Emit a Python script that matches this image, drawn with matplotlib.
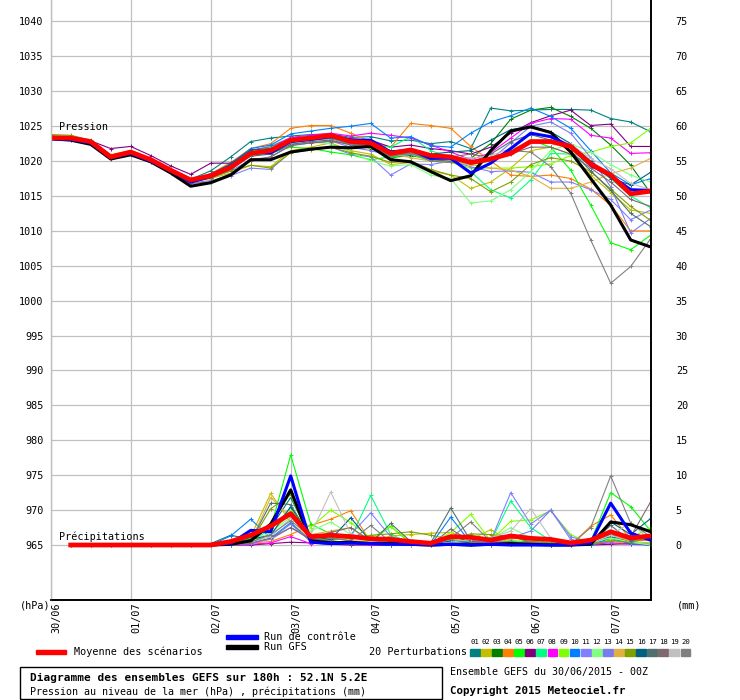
import numpy as np
import matplotlib
matplotlib.use("Agg")
import matplotlib.pyplot as plt
from matplotlib.patches import Rectangle

# ---------------- data ----------------
hours = list(range(0, 181, 6))          # 31 steps, 6h each
day_labels = ["30/06", "01/07", "02/07", "03/07", "04/07", "05/07", "06/07", "07/07"]
day_hours = [0, 24, 48, 72, 96, 120, 144, 168]
p_ticks = list(range(965, 1041, 5))
mm_ticks = list(range(0, 76, 5))

mean_p = [1023.35, 1023.3, 1022.8, 1020.6, 1021.3, 1020.2, 1018.7, 1017.3, 1017.9, 1019.1, 1021.1, 1021.5,
          1023.0, 1023.3, 1023.7, 1022.8, 1022.6, 1021.1, 1021.6, 1020.8, 1020.6, 1019.8, 1020.3, 1021.1,
          1022.8, 1022.8, 1022.1, 1019.6, 1018.0, 1015.3, 1015.7]
gfs_p = [1023.2, 1023.0, 1022.4, 1020.3, 1020.9, 1019.9, 1018.3, 1016.4, 1016.9, 1018.0, 1020.2, 1020.2,
         1021.3, 1021.7, 1022.0, 1021.9, 1022.1, 1020.2, 1019.9, 1018.5, 1017.2, 1017.9, 1021.5, 1024.3,
         1024.9, 1024.1, 1021.3, 1017.5, 1013.7, 1008.7, 1007.7]
ctrl_p = [1023.2, 1023.1, 1022.6, 1020.5, 1021.1, 1020.0, 1018.6, 1017.0, 1017.8, 1019.2, 1021.2, 1021.2,
          1022.8, 1023.1, 1023.5, 1023.0, 1023.0, 1021.3, 1021.6, 1020.4, 1020.4, 1018.3, 1019.7, 1021.8,
          1024.0, 1023.5, 1022.1, 1019.4, 1017.9, 1015.9, 1015.8]

pert_colors = ["#008080", "#c0c000", "#008000", "#ff8000", "#00ff00", "#800080", "#00ff80", "#ff00ff",
               "#80ff00", "#0080ff", "#8080ff", "#80ff80", "#7b7bf0", "#e0b040", "#80a000", "#006080",
               "#507070", "#806870", "#c0c0c0", "#808080"]

p01 = [1023.2, 1023.1, 1022.6, 1020.5, 1021.2, 1020.3, 1018.9, 1017.4, 1018.6, 1020.6, 1022.8, 1023.3, 1023.6, 1023.8, 1023.9, 1023.4, 1023.5, 1022.9, 1023.0, 1022.5, 1022.8, 1021.8, 1027.6, 1027.2, 1027.3, 1027.4, 1027.4, 1027.3, 1026.1, 1025.6, 1024.2]
p02 = [1023.5, 1023.4, 1022.7, 1020.7, 1021.4, 1020.1, 1018.5, 1017.0, 1017.5, 1018.3, 1019.4, 1019.2, 1021.5, 1022.0, 1022.6, 1021.5, 1021.0, 1019.5, 1019.8, 1018.6, 1018.0, 1016.1, 1017.0, 1019.0, 1021.5, 1022.0, 1021.0, 1018.0, 1015.5, 1013.0, 1012.5]
p03 = [1023.4, 1023.3, 1022.8, 1020.7, 1021.3, 1020.2, 1018.8, 1017.3, 1018.0, 1019.3, 1021.2, 1021.6, 1022.9, 1023.2, 1023.5, 1022.6, 1021.8, 1020.5, 1020.8, 1020.3, 1020.5, 1020.4, 1022.5, 1026.0, 1027.3, 1027.7, 1026.4, 1024.7, 1022.3, 1019.4, 1015.4]
p04 = [1023.6, 1023.5, 1022.9, 1020.9, 1021.5, 1020.4, 1018.9, 1017.3, 1018.2, 1019.8, 1021.8, 1022.5, 1024.7, 1025.1, 1025.1, 1024.0, 1022.8, 1022.0, 1025.4, 1025.1, 1024.7, 1022.1, 1020.0, 1018.0, 1017.8, 1018.0, 1017.5, 1016.0, 1013.7, 1010.0, 1010.0]
p05 = [1023.3, 1023.2, 1022.7, 1020.6, 1021.2, 1020.1, 1018.6, 1017.2, 1017.8, 1019.0, 1020.8, 1021.2, 1022.0, 1021.8, 1021.3, 1020.9, 1020.2, 1020.6, 1021.0, 1020.0, 1019.8, 1019.5, 1020.0, 1021.5, 1023.0, 1022.0, 1018.7, 1013.7, 1008.3, 1007.3, 1009.4]
p06 = [1023.5, 1023.4, 1022.9, 1021.8, 1022.1, 1020.8, 1019.3, 1018.1, 1019.7, 1019.7, 1021.5, 1022.0, 1023.2, 1023.5, 1023.8, 1023.2, 1023.0, 1022.0, 1022.3, 1021.8, 1021.5, 1021.0, 1022.0, 1024.0, 1025.5, 1026.5, 1027.3, 1025.1, 1025.3, 1022.1, 1022.1]
p07 = [1023.3, 1023.2, 1022.7, 1020.6, 1021.3, 1020.2, 1018.7, 1017.2, 1017.9, 1019.2, 1021.4, 1022.2, 1023.3, 1023.6, 1023.5, 1022.9, 1022.3, 1022.0, 1023.5, 1021.5, 1020.5, 1018.5, 1015.9, 1014.7, 1017.3, 1021.1, 1021.0, 1019.5, 1017.5, 1015.0, 1013.3]
p08 = [1023.3, 1023.2, 1022.7, 1020.7, 1021.3, 1020.3, 1018.8, 1017.3, 1018.2, 1019.5, 1021.6, 1022.0, 1023.4, 1023.7, 1024.0, 1023.6, 1024.0, 1023.7, 1023.3, 1022.3, 1021.3, 1020.2, 1021.2, 1023.3, 1025.4, 1026.1, 1026.0, 1023.7, 1023.3, 1021.1, 1021.2]
p09 = [1023.4, 1023.3, 1022.8, 1020.8, 1021.4, 1020.3, 1018.8, 1017.4, 1018.1, 1019.4, 1021.5, 1021.9, 1023.1, 1023.3, 1023.4, 1022.5, 1021.9, 1021.2, 1021.0, 1020.2, 1019.8, 1019.0, 1019.0, 1019.0, 1019.2, 1019.6, 1020.8, 1021.3, 1022.1, 1022.6, 1024.7]
p10 = [1023.1, 1023.0, 1022.5, 1020.4, 1021.0, 1020.0, 1018.6, 1017.1, 1017.9, 1019.6, 1021.8, 1022.3, 1023.9, 1024.3, 1024.7, 1025.0, 1025.4, 1023.3, 1023.5, 1022.2, 1022.0, 1024.0, 1025.6, 1026.5, 1027.6, 1026.4, 1024.7, 1021.5, 1018.3, 1016.6, 1017.5]
p11 = [1023.1, 1023.0, 1022.4, 1020.3, 1020.9, 1019.8, 1018.3, 1016.9, 1017.2, 1017.9, 1019.0, 1018.8, 1021.3, 1021.8, 1022.0, 1021.0, 1020.6, 1018.0, 1019.6, 1019.5, 1020.0, 1019.2, 1018.5, 1018.6, 1018.4, 1017.0, 1017.0, 1015.9, 1014.5, 1011.6, 1013.0]
p12 = [1023.2, 1023.1, 1022.6, 1020.5, 1021.1, 1020.1, 1018.6, 1017.1, 1017.8, 1019.1, 1021.0, 1021.2, 1022.5, 1022.7, 1022.5, 1021.3, 1020.0, 1019.3, 1019.5, 1018.0, 1017.5, 1014.0, 1014.3, 1015.9, 1018.5, 1021.5, 1022.5, 1021.3, 1019.5, 1018.0, 1017.0]
p13 = [1023.2, 1023.0, 1022.5, 1020.4, 1021.1, 1020.0, 1018.5, 1017.0, 1017.6, 1018.6, 1020.2, 1020.6, 1022.3, 1022.6, 1022.9, 1022.0, 1021.5, 1020.8, 1021.0, 1020.5, 1020.4, 1019.6, 1020.2, 1022.6, 1025.0, 1025.6, 1024.0, 1020.5, 1016.3, 1009.7, 1011.8]
p14 = [1023.4, 1023.3, 1022.8, 1020.7, 1021.4, 1020.3, 1018.8, 1017.3, 1018.0, 1019.3, 1021.2, 1021.7, 1023.0, 1023.3, 1023.4, 1022.8, 1022.0, 1021.0, 1020.5, 1020.0, 1019.8, 1019.5, 1019.0, 1018.7, 1017.8, 1016.1, 1016.1, 1017.0, 1018.2, 1019.0, 1020.4]
p15 = [1023.8, 1023.7, 1023.0, 1020.8, 1021.5, 1020.2, 1018.6, 1017.1, 1017.6, 1018.6, 1019.4, 1019.0, 1021.2, 1021.6, 1022.0, 1021.2, 1020.7, 1019.8, 1020.0, 1018.8, 1018.0, 1017.5, 1015.6, 1017.0, 1019.5, 1020.5, 1020.0, 1018.5, 1016.0, 1013.5, 1011.5]
p16 = [1023.2, 1023.1, 1022.6, 1020.5, 1021.2, 1020.1, 1018.7, 1017.2, 1018.1, 1019.6, 1021.6, 1021.8, 1023.0, 1023.2, 1023.3, 1022.4, 1022.3, 1021.5, 1021.5, 1021.0, 1021.3, 1021.5, 1023.0, 1024.5, 1025.0, 1024.2, 1022.5, 1020.0, 1017.5, 1016.6, 1018.4]
p17 = [1023.3, 1023.2, 1022.6, 1020.5, 1021.2, 1020.0, 1018.5, 1016.9, 1017.6, 1018.8, 1020.7, 1021.0, 1022.4, 1022.8, 1023.0, 1022.3, 1022.0, 1020.7, 1021.2, 1020.2, 1020.0, 1019.8, 1021.0, 1022.8, 1023.8, 1023.0, 1021.5, 1018.6, 1015.8, 1012.5, 1010.6]
p18 = [1023.2, 1023.1, 1022.5, 1020.3, 1021.0, 1019.9, 1018.4, 1016.8, 1017.0, 1018.2, 1020.0, 1020.6, 1022.2, 1022.6, 1022.8, 1022.5, 1022.0, 1021.5, 1021.2, 1020.9, 1020.6, 1021.0, 1020.5, 1021.0, 1022.0, 1022.0, 1021.0, 1019.0, 1017.0, 1014.5, 1013.5]
p19 = [1023.3, 1023.2, 1022.7, 1020.6, 1021.2, 1020.1, 1018.7, 1017.1, 1017.8, 1019.0, 1020.9, 1021.4, 1022.8, 1023.1, 1023.4, 1022.6, 1022.4, 1021.0, 1021.4, 1020.9, 1020.6, 1020.4, 1020.8, 1021.8, 1022.6, 1022.9, 1022.4, 1020.4, 1018.9, 1016.8, 1015.9]
p20 = [1023.2, 1023.1, 1022.6, 1020.6, 1021.2, 1020.1, 1018.6, 1017.0, 1017.7, 1019.0, 1020.9, 1021.3, 1022.7, 1023.0, 1023.2, 1022.5, 1022.1, 1020.8, 1021.2, 1020.0, 1019.8, 1020.0, 1020.5, 1021.5, 1021.3, 1019.2, 1015.4, 1008.7, 1002.5, 1004.9, 1008.9]
pert_p = [p01, p02, p03, p04, p05, p06, p07, p08, p09, p10, p11, p12, p13, p14, p15, p16, p17, p18, p19, p20]

# precipitation (mm), from 6h (hours[1:]); first 7 steps are dry
dry = [0.0] * 7
mean_r = dry + [0.0, 0.5, 1.4, 2.7, 4.5, 1.2, 1.4, 1.2, 0.9, 0.8, 0.5, 0.25, 1.2, 1.1, 0.7, 1.3, 0.95, 0.8, 0.3, 0.7, 1.9, 1.0, 1.3]
gfs_r = dry + [0.0, 0.1, 0.6, 3.0, 7.9, 0.6, 0.3, 0.4, 0.2, 0.3, 0.1, 0.0, 0.1, 0.0, 0.1, 0.2, 0.1, 0.0, 0.0, 0.1, 3.3, 2.9, 1.9]
ctrl_r = dry + [0.0, 0.2, 2.1, 1.9, 9.9, 0.4, 0.2, 0.3, 0.2, 0.1, 0.1, 0.0, 0.1, 0.0, 0.1, 0.0, 0.0, 0.0, 0.0, 0.3, 6.0, 1.7, 0.7]
r01 = dry + [0.2, 1.4, 0.8, 2.5, 6.8, 1.0, 0.5, 0.3, 0.2, 0.0, 0.0, 0.0, 0.6, 0.2, 0.0, 0.4, 0.0, 0.0, 0.0, 0.3, 1.2, 0.5, 1.0]
r02 = dry + [0.0, 0.3, 1.2, 7.4, 3.2, 0.8, 1.0, 0.6, 0.5, 1.3, 1.5, 1.7, 1.8, 0.8, 2.2, 0.5, 0.0, 0.0, 0.0, 0.2, 0.5, 0.2, 0.0]
r03 = dry + [0.0, 0.2, 0.6, 3.0, 7.5, 0.4, 0.6, 0.3, 0.0, 0.0, 0.1, 0.0, 0.3, 1.1, 0.5, 1.4, 0.3, 0.2, 0.0, 0.0, 0.8, 0.3, 0.0]
r04 = dry + [0.0, 0.0, 0.3, 0.5, 1.5, 2.8, 3.7, 4.9, 0.5, 0.2, 0.0, 0.0, 0.3, 0.5, 1.1, 1.3, 1.0, 0.2, 0.0, 2.7, 4.3, 0.8, 0.6]
r05 = dry + [0.0, 0.1, 1.0, 2.4, 12.9, 3.0, 1.6, 1.4, 0.5, 2.7, 0.2, 0.0, 0.8, 0.5, 0.2, 0.6, 0.5, 0.4, 0.0, 0.5, 7.5, 5.5, 2.0]
r06 = dry + [0.0, 0.0, 0.0, 0.2, 0.4, 0.3, 0.1, 0.0, 0.0, 0.0, 0.0, 0.0, 0.0, 0.2, 0.4, 0.2, 0.0, 0.0, 0.0, 0.0, 0.1, 0.2, 0.0]
r07 = dry + [0.0, 0.1, 0.6, 2.2, 5.3, 0.9, 1.2, 1.0, 7.1, 1.5, 0.3, 0.1, 0.4, 0.2, 0.5, 6.3, 2.5, 0.6, 0.0, 0.0, 0.8, 0.3, 0.2]
r08 = dry + [0.0, 0.0, 0.1, 0.3, 1.2, 0.2, 0.3, 0.1, 0.0, 0.0, 0.0, 0.0, 0.3, 0.1, 0.2, 0.2, 0.5, 0.0, 0.0, 0.1, 0.3, 0.1, 0.0]
r09 = dry + [0.0, 0.1, 0.5, 1.5, 4.8, 2.5, 5.0, 3.2, 1.0, 2.6, 0.4, 0.2, 1.8, 4.4, 0.6, 3.4, 3.6, 4.9, 1.5, 0.2, 0.8, 1.0, 2.5]
r10 = dry + [0.0, 1.3, 3.7, 1.0, 3.2, 0.5, 0.3, 0.2, 0.1, 0.0, 0.0, 0.0, 4.0, 0.3, 0.0, 0.2, 0.0, 0.0, 0.0, 0.0, 1.0, 0.2, 0.0]
r11 = dry + [0.0, 0.0, 0.4, 0.8, 2.5, 1.0, 0.6, 1.5, 4.6, 1.2, 0.4, 0.2, 0.5, 0.3, 0.6, 7.5, 3.0, 5.0, 1.2, 0.3, 0.4, 1.8, 0.8]
r12 = dry + [0.0, 0.2, 0.5, 1.8, 4.0, 2.0, 3.3, 1.5, 0.6, 0.3, 0.2, 0.0, 0.9, 1.5, 0.8, 2.5, 1.0, 0.6, 0.2, 0.4, 1.0, 0.4, 0.0]
r13 = dry + [0.0, 0.0, 0.2, 0.9, 3.0, 0.5, 0.4, 0.2, 0.3, 0.0, 0.1, 0.0, 0.5, 0.6, 0.3, 1.0, 2.0, 5.0, 0.8, 0.2, 1.5, 0.6, 0.8]
r14 = dry + [0.0, 0.0, 0.5, 6.8, 4.0, 1.5, 2.0, 2.5, 0.4, 0.1, 0.0, 0.0, 0.2, 0.4, 0.3, 0.8, 1.2, 0.3, 0.0, 0.2, 1.5, 0.5, 0.3]
r15 = dry + [0.0, 0.0, 0.4, 5.2, 7.2, 0.7, 0.8, 0.9, 1.4, 1.6, 1.9, 1.4, 0.8, 1.6, 1.5, 1.2, 0.5, 0.3, 0.0, 0.1, 0.6, 0.4, 1.0]
r16 = dry + [0.0, 0.3, 0.8, 1.4, 5.5, 1.2, 0.8, 3.9, 0.5, 0.1, 0.0, 0.0, 0.6, 0.3, 0.1, 0.4, 0.2, 0.0, 0.0, 0.2, 3.3, 1.5, 3.8]
r17 = dry + [0.0, 0.0, 0.5, 6.0, 5.8, 0.9, 0.5, 0.2, 0.3, 3.1, 0.5, 0.3, 5.3, 0.6, 0.2, 0.4, 0.1, 0.0, 0.0, 0.3, 2.8, 0.6, 1.5]
r18 = dry + [0.0, 0.1, 0.3, 1.0, 2.5, 0.8, 1.8, 2.5, 0.6, 0.2, 0.1, 0.0, 2.3, 0.5, 0.2, 0.4, 0.3, 0.2, 0.0, 0.4, 1.5, 1.2, 6.2]
r19 = dry + [0.0, 0.1, 0.4, 1.2, 3.8, 1.5, 7.6, 1.6, 0.5, 0.3, 0.0, 0.0, 0.4, 0.8, 1.0, 2.0, 5.2, 1.0, 0.0, 0.3, 1.4, 3.2, 0.6]
r20 = dry + [0.0, 0.0, 0.4, 1.5, 3.5, 1.2, 1.0, 0.6, 2.8, 0.4, 0.2, 0.0, 1.0, 3.3, 0.5, 0.4, 0.3, 0.2, 0.0, 2.5, 9.9, 3.1, 1.2]
pert_r = [r01, r02, r03, r04, r05, r06, r07, r08, r09, r10, r11, r12, r13, r14, r15, r16, r17, r18, r19, r20]

# ---------------- figure ----------------
W, H = 740, 700
MONO = "DejaVu Sans Mono"
plt.rcParams["font.family"] = [MONO, "DejaVu Sans"]
fig = plt.figure(figsize=(W / 100, H / 100), dpi=100)
fig.patch.set_facecolor("white")


def fx(x):
    return x / W


def fy(y):
    return 1 - y / H


ax_l, ax_r, ax_t, ax_b = 50.7, 650.7, 0.0, 600.0
ax = fig.add_axes([fx(ax_l), fy(ax_b), (ax_r - ax_l) / W, (ax_b - ax_t) / H])
P_LO, P_HI = 957.12, 1043.08
ax.set_xlim(0, 180)
ax.set_ylim(P_LO, P_HI)
axr = ax.twinx()
axr.set_ylim(P_LO - 965, P_HI - 965)

grid_c = "#c0c0c0"
for p in p_ticks:
    ax.axhline(p, color=grid_c, lw=0.9, zorder=0)
for h in day_hours:
    ax.axvline(h, color=grid_c, lw=0.9, zorder=0)

for a in (ax, axr):
    a.set_xticks([])
    a.tick_params(length=0)
    a.spines["top"].set_visible(False)
    a.spines["left"].set_color(grid_c)
    a.spines["left"].set_linewidth(0.9)
    a.spines["right"].set_color("black")
    a.spines["right"].set_linewidth(1.2)
    a.spines["bottom"].set_color("black")
    a.spines["bottom"].set_linewidth(1.2)

ax.set_yticks(p_ticks)
ax.set_yticklabels([str(p) for p in p_ticks], fontsize=7.3, family=MONO)
ax.tick_params(axis="y", pad=5)
axr.set_yticks(mm_ticks)
axr.set_yticklabels([str(m) for m in mm_ticks], fontsize=7.3, family=MONO)
axr.tick_params(axis="y", pad=18)

# members - pressure
for vals, col in zip(pert_p, pert_colors):
    ax.plot(hours, vals, color=col, lw=0.8, marker="+", ms=3, mew=0.7, zorder=2)
# members - precipitation (right axis)
for vals, col in zip(pert_r, pert_colors):
    axr.plot(hours[1:], vals, color=col, lw=0.8, marker="+", ms=3, mew=0.7, zorder=2)

ax.plot(hours, gfs_p, color="black", lw=2.2, zorder=3)
ax.plot(hours, ctrl_p, color="#0000ff", lw=2.2, zorder=3)
ax.plot(hours, mean_p, color="#ff0000", lw=3.4, zorder=4)
axr.plot(hours[1:], gfs_r, color="black", lw=2.2, zorder=3)
axr.plot(hours[1:], ctrl_r, color="#0000ff", lw=2.2, zorder=3)
axr.plot(hours[1:], mean_r, color="#ff0000", lw=3.4, zorder=4)

fs = 7.3
fig.text(fx(59), fy(126.5), "Pression", fontsize=fs, family=MONO, va="center", ha="left")
fig.text(fx(59), fy(537), "Précipitations", fontsize=fs, family=MONO, va="center", ha="left")

# x labels (rotated)
for h, lab in zip(day_hours, day_labels):
    xp = ax_l + h / 180 * (ax_r - ax_l) + 6
    fig.text(fx(xp), fy(602), lab, rotation=90, fontsize=fs, family=MONO, ha="center", va="top")
fig.text(fx(20), fy(606), "(hPa)", fontsize=fs, family=MONO, ha="left", va="center")
fig.text(fx(677), fy(606), "(mm)", fontsize=fs, family=MONO, ha="left", va="center")

# legend
fig.add_artist(Rectangle((fx(36), fy(654)), 30 / W, 4 / H, color="#ff0000", transform=fig.transFigure))
fig.text(fx(74), fy(652), "Moyenne des scénarios", fontsize=fs, family=MONO, ha="left", va="center")
fig.add_artist(Rectangle((fx(226), fy(639)), 32 / W, 4 / H, color="#0000ff", transform=fig.transFigure))
fig.add_artist(Rectangle((fx(226), fy(649)), 32 / W, 4 / H, color="black", transform=fig.transFigure))
fig.text(fx(264), fy(637), "Run de contrôle", fontsize=fs, family=MONO, ha="left", va="center")
fig.text(fx(264), fy(647), "Run GFS", fontsize=fs, family=MONO, ha="left", va="center")
fig.text(fx(467), fy(652), "20 Perturbations", fontsize=fs, family=MONO, ha="right", va="center")
for k, col in enumerate(pert_colors):
    x0 = 470 + k * 11.08
    fig.add_artist(Rectangle((fx(x0), fy(655.5)), 9.7 / W, 6.5 / H, color=col, transform=fig.transFigure))
    fig.text(fx(x0 + 4.8), fy(642), "%02d" % (k + 1), fontsize=5.2, family=MONO,
             ha="center", va="center")

# footer box
fig.add_artist(Rectangle((fx(20), fy(699)), 422 / W, 32 / H, fill=False, edgecolor="black",
                         lw=1.0, transform=fig.transFigure))
fig.text(fx(30), fy(678), "Diagramme des ensembles GEFS sur 180h : 52.1N 5.2E", fontsize=8.0,
         family=MONO, weight="bold", ha="left", va="center")
fig.text(fx(30), fy(691.5), "Pression au niveau de la mer (hPa) , précipitations (mm)", fontsize=7.2,
         family=MONO, ha="left", va="center")
fig.text(fx(450), fy(672), "Ensemble GEFS du 30/06/2015 - 00Z", fontsize=7.2, family=MONO,
         ha="left", va="center")
fig.text(fx(450), fy(691), "Copyright 2015 Meteociel.fr", fontsize=7.8, family=MONO, weight="bold",
         ha="left", va="center")

fig.savefig("out.png", dpi=100, facecolor="white")
